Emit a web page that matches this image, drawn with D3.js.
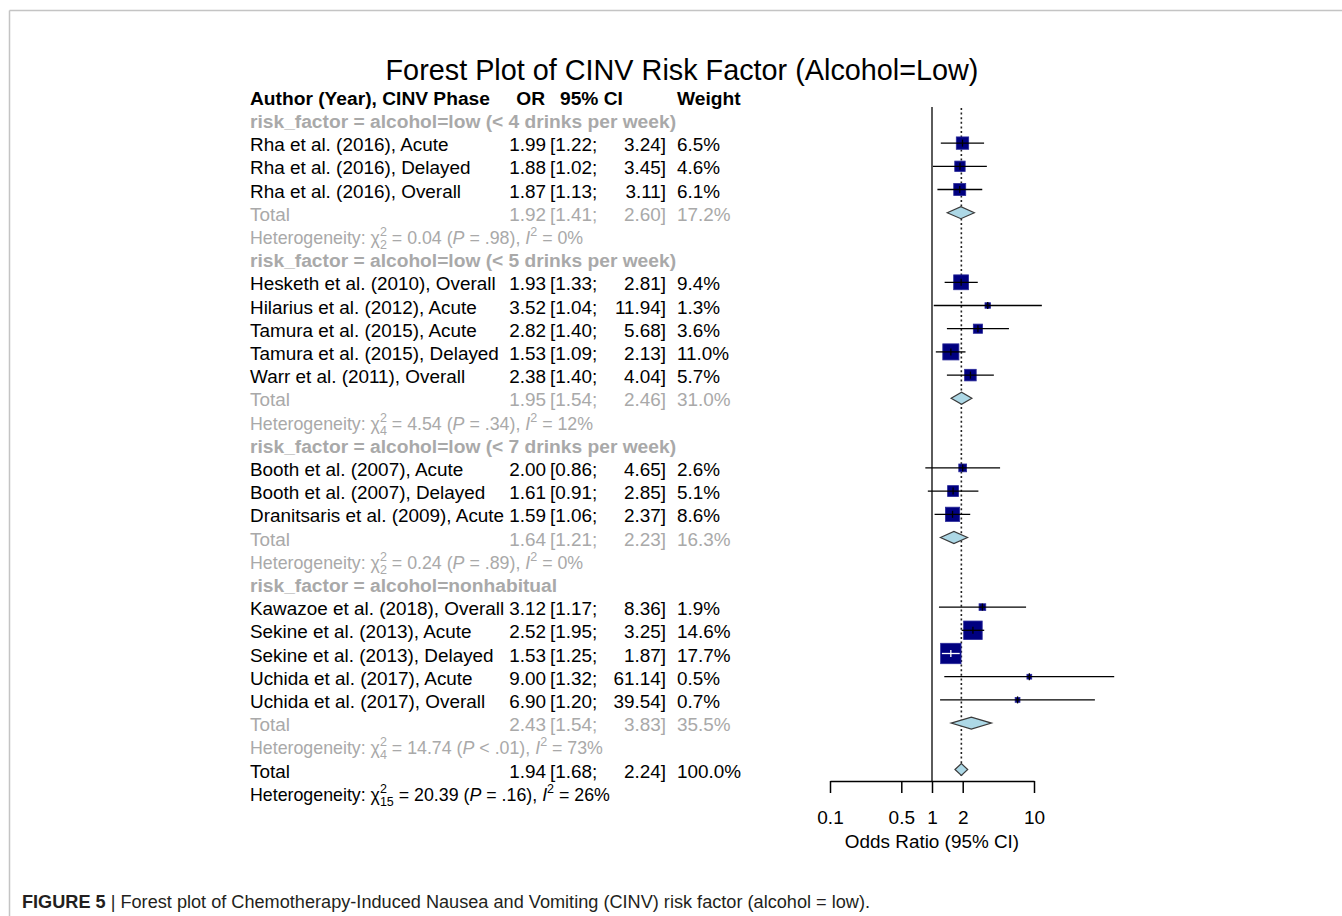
<!DOCTYPE html>
<html>
<head>
<meta charset="utf-8">
<script src="https://cdn.jsdelivr.net/npm/d3@7/dist/d3.min.js"></script>
<style>
  html, body { margin: 0; padding: 0; background: #fff; }
  svg { display: block; }
  text { font-family: "Liberation Sans", Arial, Helvetica, sans-serif; }
</style>
</head>
<body>
<svg id="chart" width="1342" height="916"></svg>
<script>
// ---------------- DATA ----------------
const titleText = "Forest Plot of CINV Risk Factor (Alcohol=Low)";
const headerLabels = ["Author (Year), CINV Phase", "OR", "95% CI", "Weight"];

const groupLabels = [
  "risk_factor = alcohol=low (< 4 drinks per week)",
  "risk_factor = alcohol=low (< 5 drinks per week)",
  "risk_factor = alcohol=low (< 7 drinks per week)",
  "risk_factor = alcohol=nonhabitual"
];

const studyLabels = [
  ["Rha et al. (2016), Acute", "Rha et al. (2016), Delayed", "Rha et al. (2016), Overall"],
  ["Hesketh et al. (2010), Overall", "Hilarius et al. (2012), Acute", "Tamura et al. (2015), Acute",
   "Tamura et al. (2015), Delayed", "Warr et al. (2011), Overall"],
  ["Booth et al. (2007), Acute", "Booth et al. (2007), Delayed", "Dranitsaris et al. (2009), Acute"],
  ["Kawazoe et al. (2018), Overall", "Sekine et al. (2013), Acute", "Sekine et al. (2013), Delayed",
   "Uchida et al. (2017), Acute", "Uchida et al. (2017), Overall"]
];
const studyOR = [
  [1.99, 1.88, 1.87],
  [1.93, 3.52, 2.82, 1.53, 2.38],
  [2.00, 1.61, 1.59],
  [3.12, 2.52, 1.53, 9.00, 6.90]
];
const studyLower = [
  [1.22, 1.02, 1.13],
  [1.33, 1.04, 1.40, 1.09, 1.40],
  [0.86, 0.91, 1.06],
  [1.17, 1.95, 1.25, 1.32, 1.20]
];
const studyUpper = [
  [3.24, 3.45, 3.11],
  [2.81, 11.94, 5.68, 2.13, 4.04],
  [4.65, 2.85, 2.37],
  [8.36, 3.25, 1.87, 61.14, 39.54]
];
const studyWeight = [
  [6.5, 4.6, 6.1],
  [9.4, 1.3, 3.6, 11.0, 5.7],
  [2.6, 5.1, 8.6],
  [1.9, 14.6, 17.7, 0.5, 0.7]
];

const totalOR = [1.92, 1.95, 1.64, 2.43];
const totalLower = [1.41, 1.54, 1.21, 1.54];
const totalUpper = [2.60, 2.46, 2.23, 3.83];
const totalWeight = [17.2, 31.0, 16.3, 35.5];

const hetDf = ["2", "4", "2", "4"];
const hetChi = ["0.04", "4.54", "0.24", "14.74"];
const hetP = ["= .98", "= .34", "= .89", "< .01"];
const hetI2 = ["0%", "12%", "0%", "73%"];

const overallOR = 1.94, overallLower = 1.68, overallUpper = 2.24, overallWeight = 100.0;
const overallDf = "15", overallChi = "20.39", overallP = "= .16", overallI2 = "26%";

const xTickValues = [0.1, 0.5, 1, 2, 10];
const xTickLabels = ["0.1", "0.5", "1", "2", "10"];
const xAxisTitle = "Odds Ratio (95% CI)";
const captionBold = "FIGURE 5";
const captionRest = " | Forest plot of Chemotherapy-Induced Nausea and Vomiting (CINV) risk factor (alcohol = low).";

// ---------------- BUILD ROWS ----------------
const rows = [];
rows.push({ type: "header" });
groupLabels.forEach((g, gi) => {
  rows.push({ type: "group", label: g });
  studyLabels[gi].forEach((s, si) => {
    rows.push({ type: "study", label: s, est: studyOR[gi][si], lo: studyLower[gi][si],
                hi: studyUpper[gi][si], w: studyWeight[gi][si] });
  });
  rows.push({ type: "total", label: "Total", est: totalOR[gi], lo: totalLower[gi], hi: totalUpper[gi],
              w: totalWeight[gi], sub: true });
  rows.push({ type: "het", df: hetDf[gi], chi: hetChi[gi], p: hetP[gi], i2: hetI2[gi], sub: true });
});
rows.push({ type: "total", label: "Total", est: overallOR, lo: overallLower, hi: overallUpper,
            w: overallWeight, sub: false });
rows.push({ type: "het", df: overallDf, chi: overallChi, p: overallP, i2: overallI2, sub: false });

// ---------------- LAYOUT ----------------
const svg = d3.select("#chart");
const FS = 18.9;      // regular row text
const FSB = 19.2;     // bold text
const FSH = 17.8;     // heterogeneity text
const GRAY = "#a9a9a9";
const y = d3.scaleLinear().domain([0, rows.length - 1]).range([98, 98 + 23.2 * (rows.length - 1)]);
const x = d3.scaleLog().domain([0.1, 10]).range([830, 1034]);
const markOff = -1.3;
const baseOff = 6.7;

const colLabel = 250, colORRight = 546, colCILo = 550, colCIHiRight = 666, colW = 677;

// frame
svg.append("line").attr("x1", 9.5).attr("y1", 10.5).attr("x2", 1342).attr("y2", 10.5)
  .attr("stroke", "#c4c4c4").attr("stroke-width", 1.5);
svg.append("line").attr("x1", 9.5).attr("y1", 10.5).attr("x2", 9.5).attr("y2", 916)
  .attr("stroke", "#c4c4c4").attr("stroke-width", 1.5);

// title
svg.append("text").attr("x", 682).attr("y", 80).attr("text-anchor", "middle")
  .attr("font-size", 28.8).attr("fill", "#000").text(titleText);

const tg = svg.append("g");

function rich(g, x0, yb, segs, color) {
  let cx = x0;
  segs.forEach(s => {
    const t = g.append("text").attr("x", cx).attr("y", yb + (s.dy || 0))
      .attr("font-size", s.size || FSH).attr("fill", color)
      .style("white-space", "pre").text(s.t);
    if (s.it) t.attr("font-style", "italic");
    const w = t.node().getComputedTextLength();
    if (!s.noAdv) cx += w;
  });
}

rows.forEach((r, i) => {
  const yb = y(i) + baseOff;
  if (r.type === "header") {
    tg.append("text").attr("x", colLabel).attr("y", yb).attr("font-size", FSB).attr("font-weight", "bold").text(headerLabels[0]);
    tg.append("text").attr("x", colORRight - 1).attr("y", yb).attr("text-anchor", "end").attr("font-size", FSB).attr("font-weight", "bold").text(headerLabels[1]);
    tg.append("text").attr("x", 560).attr("y", yb).attr("font-size", FSB).attr("font-weight", "bold").text(headerLabels[2]);
    tg.append("text").attr("x", colW).attr("y", yb).attr("font-size", FSB).attr("font-weight", "bold").text(headerLabels[3]);
  } else if (r.type === "group") {
    tg.append("text").attr("x", colLabel).attr("y", yb).attr("font-size", FSB).attr("font-weight", "bold").attr("fill", GRAY).text(r.label);
  } else if (r.type === "study" || r.type === "total") {
    const col = (r.type === "total" && r.sub) ? GRAY : "#000";
    tg.append("text").attr("x", colLabel).attr("y", yb).attr("font-size", FS).attr("fill", col).text(r.label);
    tg.append("text").attr("x", colORRight).attr("y", yb).attr("text-anchor", "end").attr("font-size", FS).attr("fill", col).text(r.est.toFixed(2));
    tg.append("text").attr("x", colCILo).attr("y", yb).attr("font-size", FS).attr("fill", col).text("[" + r.lo.toFixed(2) + ";");
    tg.append("text").attr("x", colCIHiRight).attr("y", yb).attr("text-anchor", "end").attr("font-size", FS).attr("fill", col).text(r.hi.toFixed(2) + "]");
    tg.append("text").attr("x", colW).attr("y", yb).attr("font-size", FS).attr("fill", col).text(r.w.toFixed(1) + "%");
  } else if (r.type === "het") {
    const col = r.sub ? GRAY : "#000";
    rich(tg, colLabel, yb, [
      { t: "Heterogeneity: \u03c7" },
      { t: "2", size: 12.5, dy: -8, noAdv: true },
      { t: r.df, size: 12.5, dy: 5 },
      { t: " = " + r.chi + " (" },
      { t: "P", it: true },
      { t: " " + r.p + "), " },
      { t: "I", it: true },
      { t: "2", size: 12.5, dy: -8 },
      { t: " = " + r.i2 }
    ], col);
  }
});

// ---------------- PLOT ----------------
const pg = svg.append("g");
const axisY = 781;

// null line
pg.append("line").attr("x1", x(1)).attr("x2", x(1)).attr("y1", 107).attr("y2", axisY)
  .attr("stroke", "#333").attr("stroke-width", 1.6);
// overall dotted line
pg.append("line").attr("x1", x(overallOR)).attr("x2", x(overallOR)).attr("y1", 108).attr("y2", 776)
  .attr("stroke", "#222").attr("stroke-width", 1.6).attr("stroke-dasharray", "2,2.6");

rows.forEach((r, i) => {
  const ym = y(i) + markOff;
  if (r.type === "study") {
    const cx = x(r.est);
    const side = Math.max(4.8, 4.85 * Math.sqrt(r.w));
    const x1 = x(r.lo), x2 = x(r.hi);
    const inside = x1 >= cx - side / 2 && x2 <= cx + side / 2;
    pg.append("rect").attr("x", cx - side / 2).attr("y", ym - side / 2)
      .attr("width", side).attr("height", side)
      .attr("fill", "#000080").attr("stroke", "#2a2a9a").attr("stroke-width", 0.8);
    const lc = inside ? "#fff" : "#000";
    pg.append("line").attr("x1", x1).attr("x2", x2).attr("y1", ym).attr("y2", ym)
      .attr("stroke", lc).attr("stroke-width", 1.3);
    pg.append("line").attr("x1", cx).attr("x2", cx).attr("y1", ym - 3.5).attr("y2", ym + 3.5)
      .attr("stroke", lc).attr("stroke-width", 1.3);
  } else if (r.type === "total") {
    const pts = [[x(r.lo), ym], [x(r.est), ym - 6], [x(r.hi), ym], [x(r.est), ym + 6]];
    pg.append("polygon").attr("points", pts.map(p => p.join(",")).join(" "))
      .attr("fill", "#add8e6").attr("stroke", "#3a3a3a").attr("stroke-width", 1.2);
  }
});

// axis
const axis = d3.axisBottom(x).tickValues(xTickValues)
  .tickFormat((d, i) => xTickLabels[i]).tickSize(12).tickSizeOuter(0).tickPadding(18);
const ag = svg.append("g").attr("transform", `translate(0,${axisY})`).call(axis);
ag.select(".domain").attr("stroke", "#000").attr("stroke-width", 1.5);
ag.selectAll(".tick line").attr("stroke", "#000").attr("stroke-width", 1.5);
ag.selectAll(".tick text").attr("font-size", 19).attr("fill", "#000")
  .attr("font-family", "'Liberation Sans', Arial, sans-serif");

svg.append("text").attr("x", 932).attr("y", 848).attr("text-anchor", "middle")
  .attr("font-size", FS).attr("fill", "#000").text(xAxisTitle);

// caption
const cap = svg.append("text").attr("x", 22).attr("y", 908).attr("font-size", 17.5).attr("fill", "#231f20");
cap.append("tspan").attr("font-weight", "bold").text(captionBold);
cap.append("tspan").style("white-space", "pre").text(captionRest);
cap.attr("textLength", 848).attr("lengthAdjust", "spacingAndGlyphs");
</script>
</body>
</html>
